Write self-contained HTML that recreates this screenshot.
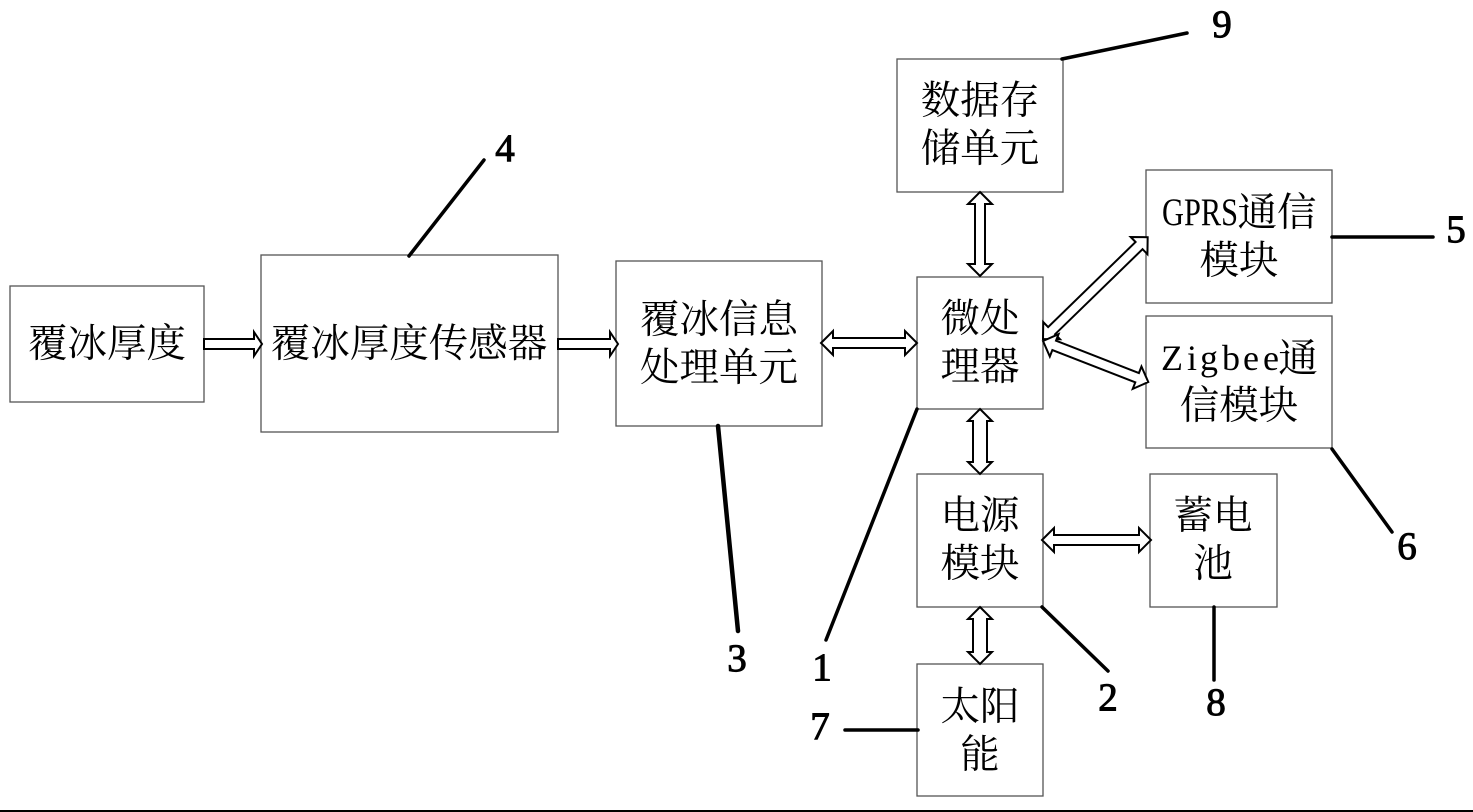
<!DOCTYPE html>
<html>
<head>
<meta charset="utf-8">
<style>
html,body{margin:0;padding:0;background:#fff;width:1473px;height:812px;overflow:hidden}
svg{display:block}
text{font-family:"Liberation Serif","Noto Serif CJK SC",serif;fill:#000}
.c{font-size:39.5px;text-anchor:middle}
.n{font-size:39px;text-anchor:middle;stroke:#000;stroke-width:1px}
.b{fill:#fff;stroke:#555;stroke-width:1.3}
.l{stroke:#000;fill:none;stroke-linecap:round}
.a{fill:#fff;stroke:#000;stroke-width:2}
</style>
</head>
<body>
<svg width="1473" height="812" viewBox="0 0 1473 812" xmlns="http://www.w3.org/2000/svg">
<rect x="10" y="286" width="194" height="116" class="b"/>
<rect x="261" y="255" width="297" height="177" class="b"/>
<rect x="616" y="261" width="206" height="165" class="b"/>
<rect x="897" y="59" width="166" height="133" class="b"/>
<rect x="1146" y="170" width="186" height="133" class="b"/>
<rect x="1146" y="316" width="186" height="132" class="b"/>
<rect x="917" y="277" width="126" height="132" class="b"/>
<rect x="917" y="474" width="126" height="133" class="b"/>
<rect x="1150" y="474" width="127" height="133" class="b"/>
<rect x="917" y="664" width="126" height="132" class="b"/>

<polygon class="a" points="204,339 254,339 254,332 262,344 254,356 254,349 204,349"/>
<polygon class="a" points="558,339 610,339 610,332 618,344 610,356 610,349 558,349"/>

<polygon class="a" transform="translate(821,343)" points="0,0 12,-12 12,-5 84,-5 84,-12 96,0 84,12 84,5 12,5 12,12"/>
<polygon class="a" transform="translate(1042,540)" points="0,0 12,-12 12,-5 97,-5 97,-12 109,0 97,12 97,5 12,5 12,12"/>
<polygon class="a" transform="translate(980,192) rotate(90)" points="0,0 12,-12 12,-5 72,-5 72,-12 84,0 72,12 72,5 12,5 12,12"/>
<polygon class="a" transform="translate(980,409) rotate(90)" points="0,0 12,-12 12,-7 53,-7 53,-12 65,0 53,12 53,7 12,7 12,12"/>
<polygon class="a" transform="translate(980,607) rotate(90)" points="0,0 12,-12 12,-7 45,-7 45,-12 57,0 45,12 45,7 12,7 12,12"/>
<polygon class="a" transform="translate(1043,339) rotate(-44.2)" points="0,0 12,-12 12,-5 134,-5 134,-12 146,0 134,12 134,5 12,5 12,12"/>
<polygon class="a" transform="translate(1043,341) rotate(21.3)" points="0,0 12,-12 12,-5 101,-5 101,-12 113,0 101,12 101,5 12,5 12,12"/>

<line class="l" stroke-width="3.5" x1="1062" y1="59" x2="1187" y2="33"/>
<line class="l" stroke-width="3.5" x1="409" y1="256" x2="484" y2="160"/>
<line class="l" stroke-width="3.5" x1="1332" y1="237" x2="1433" y2="237"/>
<line class="l" stroke-width="3.5" x1="1332" y1="449" x2="1392" y2="532"/>
<line class="l" stroke-width="4.5" x1="718" y1="426" x2="738" y2="631"/>
<line class="l" stroke-width="3.5" x1="917" y1="409" x2="826" y2="640"/>
<line class="l" stroke-width="3.5" x1="1042" y1="607" x2="1108" y2="671"/>
<line class="l" stroke-width="3.5" x1="1214" y1="607" x2="1214" y2="680"/>
<line class="l" stroke-width="3.5" x1="845" y1="730" x2="918" y2="730"/>
<line stroke="#000" stroke-width="2" x1="0" y1="811" x2="1473" y2="811"/>

<text class="c" x="107" y="357">覆冰厚度</text>
<text class="c" x="409" y="357">覆冰厚度传感器</text>
<text class="c" x="719" y="333">覆冰信息</text>
<text class="c" x="719" y="381">处理单元</text>
<text class="c" x="980" y="114">数据存</text>
<text class="c" x="980" y="162">储单元</text>
<text x="1162" y="225" font-size="39" textLength="76" lengthAdjust="spacingAndGlyphs">GPRS</text>
<text class="c" x="1277" y="226">通信</text>
<text class="c" x="1239" y="274">模块</text>
<text y="370" font-size="36" x="1161 1187 1200 1222 1243 1263">Zigbee</text>
<text class="c" x="1298" y="372">通</text>
<text class="c" x="1239" y="419">信模块</text>
<text class="c" x="980" y="332">微处</text>
<text class="c" x="980" y="380">理器</text>
<text class="c" x="980" y="529">电源</text>
<text class="c" x="980" y="577">模块</text>
<text class="c" x="1213" y="529">蓄电</text>
<text class="c" x="1213" y="577">池</text>
<text class="c" x="980" y="720">太阳</text>
<text class="c" x="980" y="768">能</text>

<text class="n" x="1222" y="37">9</text>
<text class="n" x="505" y="161">4</text>
<text class="n" x="1456" y="242">5</text>
<text class="n" x="1407" y="559">6</text>
<text class="n" x="737" y="671">3</text>
<text class="n" x="822" y="680">1</text>
<text class="n" x="1108" y="710">2</text>
<text class="n" x="1216" y="715">8</text>
<text class="n" x="820" y="739">7</text>
</svg>
</body>
</html>
